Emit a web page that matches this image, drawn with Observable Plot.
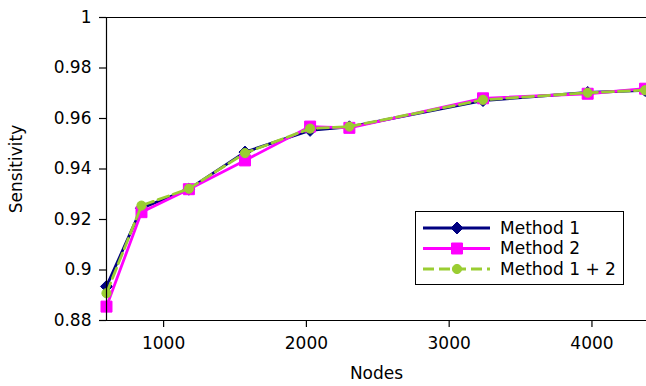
<!DOCTYPE html>
<html><head><meta charset="utf-8">
<script src="https://cdn.jsdelivr.net/npm/d3@7"></script>
<script src="https://cdn.jsdelivr.net/npm/@observablehq/plot@0.6"></script>
<style>
body{margin:0;background:#fff;}
#wrap{position:relative;width:646px;height:386px;font-family:"DejaVu Sans",sans-serif;}
#legend{position:absolute;left:0;top:0;pointer-events:none;}
</style></head><body><div id="wrap"></div>
<script>
const nodes    = [600, 845, 1177, 1570, 2026, 2301, 3237, 3970, 4372];
const method1  = [0.8935, 0.9245, 0.9320, 0.9467, 0.9553, 0.9567, 0.9671, 0.9703, 0.9711];
const method2  = [0.8855, 0.9229, 0.9320, 0.9434, 0.9568, 0.9563, 0.9680, 0.9698, 0.9718];
const method12 = [0.8908, 0.9255, 0.9322, 0.9463, 0.9560, 0.9568, 0.9674, 0.9702, 0.9712];
const seriesNames = ["Method 1", "Method 2", "Method 1 + 2"];
const seriesValues = [method1, method2, method12];
const colors = ["#000080", "#ff00ff", "#9acd32"];
const symbols = ["diamond2", "square", "circle"];
const xTicks = [1000, 2000, 3000, 4000];
const yTicks = [0.88, 0.9, 0.92, 0.94, 0.96, 0.98, 1];

const markR = [5.4, 6.2, 4.6];
const dashes = [null, null, "11,5"];

const marks = [];
seriesValues.forEach((vals, i) => {
  const data = nodes.map((n, j) => ({x: n, y: vals[j]}));
  marks.push(Plot.line(data, {x: "x", y: "y", stroke: colors[i], strokeWidth: 2.8,
    strokeDasharray: dashes[i] || undefined, strokeLinejoin: "round"}));
  marks.push(Plot.dot(data, {x: "x", y: "y", symbol: symbols[i], r: markR[i],
    fill: colors[i], stroke: colors[i], strokeWidth: 1}));
});

const chart = Plot.plot({
  width: 646, height: 386,
  marginLeft: 106, marginRight: 0, marginTop: 17, marginBottom: 66,
  style: {fontFamily: "DejaVu Sans, sans-serif", fontSize: "17px", color: "#000", background: "#fff"},
  x: {domain: [600, 4382]},
  y: {domain: [0.88, 1]},
  marks: [
    ...marks,
    Plot.ruleY([1, 0.88], {stroke: "#000", strokeWidth: 1.2}),
    Plot.ruleX([600], {stroke: "#000", strokeWidth: 1.2}),
    Plot.axisX({ticks: xTicks, tickSize: 7, tickPadding: 9, tickFormat: d => String(d), label: null, fontSize: 17, strokeWidth: 1.2}),
    Plot.axisY({ticks: yTicks, tickSize: 7, tickPadding: 8, tickFormat: d => String(+d.toFixed(2)), label: null, fontSize: 17, strokeWidth: 1.2}),
    Plot.text(["Nodes"], {frameAnchor: "bottom", dy: 53, text: d => d, fontSize: 17, fill: "#000",
      textAnchor: "middle", lineAnchor: "middle"}),
    Plot.text(["Sensitivity"], {frameAnchor: "left", dx: -89.5, rotate: -90, text: d => d, fontSize: 17, fill: "#000",
      textAnchor: "middle", lineAnchor: "middle"})
  ]
});
const wrap = document.getElementById("wrap");
wrap.appendChild(chart);

// legend
const ns = "http://www.w3.org/2000/svg";
const leg = document.createElementNS(ns, "svg");
leg.setAttribute("id", "legend");
leg.setAttribute("width", 646);
leg.setAttribute("height", 386);
const box = {x: 415.5, y: 211.5, w: 208, h: 73};
const rect = document.createElementNS(ns, "rect");
rect.setAttribute("x", box.x); rect.setAttribute("y", box.y);
rect.setAttribute("width", box.w); rect.setAttribute("height", box.h);
rect.setAttribute("fill", "#fff"); rect.setAttribute("stroke", "#000"); rect.setAttribute("stroke-width", 1);
leg.appendChild(rect);
const rowY = [228, 248.5, 269];
seriesNames.forEach((name, i) => {
  const y = rowY[i];
  const ln = document.createElementNS(ns, "line");
  ln.setAttribute("x1", 423); ln.setAttribute("x2", 490);
  ln.setAttribute("y1", y); ln.setAttribute("y2", y);
  ln.setAttribute("stroke", colors[i]); ln.setAttribute("stroke-width", 2.8);
  if (dashes[i]) ln.setAttribute("stroke-dasharray", dashes[i]);
  leg.appendChild(ln);
  const sym = d3.symbol(i === 0 ? d3.symbolDiamond2 : i === 1 ? d3.symbolSquare : d3.symbolCircle,
                        Math.PI * markR[i] * markR[i])();
  const p = document.createElementNS(ns, "path");
  p.setAttribute("d", sym);
  p.setAttribute("transform", `translate(457,${y})`);
  p.setAttribute("fill", colors[i]); p.setAttribute("stroke", colors[i]);
  leg.appendChild(p);
  const t = document.createElementNS(ns, "text");
  t.setAttribute("x", 500); t.setAttribute("y", y);
  t.setAttribute("dy", "0.35em");
  t.setAttribute("font-size", "17px");
  t.setAttribute("font-family", "DejaVu Sans, sans-serif");
  t.setAttribute("fill", "#000");
  t.textContent = name;
  leg.appendChild(t);
});
wrap.appendChild(leg);
</script></body></html>
